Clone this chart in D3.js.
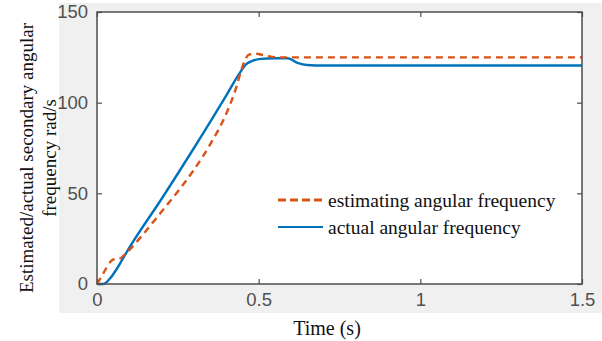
<!DOCTYPE html>
<html>
<head>
<meta charset="utf-8">
<script src="https://cdn.jsdelivr.net/npm/d3@7"></script>
<style>
  body { margin: 0; background: #fff; }
  svg { display: block; }
</style>
</head>
<body>
<svg id="chart" width="602" height="341"></svg>
<script>
// actual angular frequency (solid blue)
const actualTime = [0, 0.02, 0.04, 0.06, 0.08, 0.1, 0.2, 0.3, 0.4, 0.44, 0.46, 0.48, 0.5, 0.55, 0.59, 0.62, 0.65, 0.7, 1.5];
const actualValue = [0, 0, 3, 8, 14, 20, 47, 75, 104, 116, 121, 123, 124, 124.5, 124.5, 122, 120.8, 120.5, 120.5];

// estimating angular frequency (dashed orange)
const estTime = [0, 0.02, 0.04, 0.05, 0.07, 0.09, 0.15, 0.2, 0.25, 0.3, 0.35, 0.4, 0.43, 0.45, 0.47, 0.49, 0.52, 0.56, 1.5];
const estValue = [0, 6, 12, 13.5, 14, 17, 29, 40, 51, 63, 77, 94, 108, 120, 126.5, 127, 126, 125, 125];

const xTicks = [0, 0.5, 1, 1.5];
const yTicks = [0, 50, 100, 150];
const legendLabels = ['estimating angular frequency', 'actual angular frequency'];

const margin = { top: 12, right: 20, bottom: 57, left: 97 };
const width = 602, height = 341;
const chartWidth = width - margin.left - margin.right;
const chartHeight = height - margin.top - margin.bottom;

const serif = "'Liberation Serif', 'Times New Roman', serif";
const sans = "'Liberation Sans', Arial, sans-serif";

const svg = d3.select('#chart');

// grey figure background
svg.append('rect')
  .attr('x', 59).attr('y', 3)
  .attr('width', 543).attr('height', 310)
  .attr('fill', '#f0f0f0');

const xScale = d3.scaleLinear().domain([0, 1.5]).range([0, chartWidth]);
const yScale = d3.scaleLinear().domain([0, 150]).range([chartHeight, 0]);

const g = svg.append('g')
  .attr('transform', `translate(${margin.left},${margin.top})`);

g.append('rect')
  .attr('width', chartWidth).attr('height', chartHeight)
  .attr('fill', '#fff');

const axisColor = '#4d4d4d';

const styleAxis = (sel) => {
  sel.select('.domain').remove();
  sel.selectAll('line').attr('stroke', axisColor).attr('stroke-width', 1.2);
  sel.selectAll('text')
    .attr('fill', '#505050')
    .style('font-family', sans)
    .style('font-size', '18.5px');
};

g.append('g')
  .attr('transform', `translate(0,${chartHeight})`)
  .call(d3.axisBottom(xScale).tickValues(xTicks).tickSize(-5).tickPadding(9).tickFormat(d3.format('')))
  .call(styleAxis);

g.append('g')
  .call(d3.axisTop(xScale).tickValues(xTicks).tickSize(-5).tickFormat(''))
  .call(styleAxis);

g.append('g')
  .call(d3.axisLeft(yScale).tickValues(yTicks).tickSize(-5).tickPadding(9))
  .call(styleAxis);

g.append('g')
  .attr('transform', `translate(${chartWidth},0)`)
  .call(d3.axisRight(yScale).tickValues(yTicks).tickSize(-5).tickFormat(''))
  .call(styleAxis);

const actualData = actualTime.map((t, i) => ({ x: t, y: actualValue[i] }));
const estData = estTime.map((t, i) => ({ x: t, y: estValue[i] }));

const line = d3.line()
  .x((d) => xScale(d.x))
  .y((d) => yScale(d.y))
  .curve(d3.curveMonotoneX);

g.append('path')
  .datum(actualData)
  .attr('fill', 'none')
  .attr('stroke', '#0072BD')
  .attr('stroke-width', 2.4)
  .attr('d', line);

g.append('path')
  .datum(estData)
  .attr('fill', 'none')
  .attr('stroke', '#D95319')
  .attr('stroke-width', 2.4)
  .attr('stroke-dasharray', '7,5')
  .attr('d', line);

// frame
g.append('rect')
  .attr('width', chartWidth).attr('height', chartHeight)
  .attr('fill', 'none')
  .attr('stroke', axisColor)
  .attr('stroke-width', 1.5);

// legend
const legend = g.append('g')
  .attr('transform', `translate(${278 - margin.left},${200 - margin.top})`);

legend.append('line')
  .attr('x1', 0).attr('x2', 45).attr('y1', 0).attr('y2', 0)
  .attr('stroke', '#D95319').attr('stroke-width', 3)
  .attr('stroke-dasharray', '8,4');

legend.append('line')
  .attr('x1', 0).attr('x2', 45).attr('y1', 27).attr('y2', 27)
  .attr('stroke', '#0072BD').attr('stroke-width', 2);

legend.selectAll('text.leg')
  .data(legendLabels)
  .enter()
  .append('text')
  .attr('class', 'leg')
  .attr('x', 50)
  .attr('y', (d, i) => i * 27)
  .attr('dy', '0.35em')
  .style('font-family', serif)
  .style('font-size', '19.5px')
  .attr('fill', '#111')
  .text((d) => d);

// axis titles
svg.append('text')
  .attr('x', 327).attr('y', 335)
  .attr('text-anchor', 'middle')
  .style('font-family', serif)
  .style('font-size', '20px')
  .attr('fill', '#111')
  .text('Time (s)');

const yTitle = svg.append('text')
  .attr('transform', 'translate(33,158) rotate(-90)')
  .attr('text-anchor', 'middle')
  .style('font-family', serif)
  .style('font-size', '19px')
  .attr('fill', '#111');
yTitle.append('tspan').attr('x', 0).attr('y', 0).text('Estimated/actual secondary angular');
yTitle.append('tspan').attr('x', 0).attr('y', 23).text('frequency rad/s');
</script>
</body>
</html>
